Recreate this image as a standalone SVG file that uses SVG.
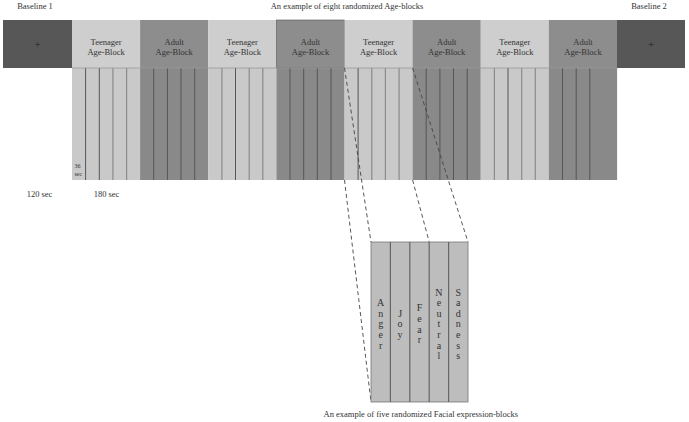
<svg xmlns="http://www.w3.org/2000/svg" width="689" height="422" viewBox="0 0 689 422">
<style>
text{font-family:"Liberation Serif","Times New Roman",serif;fill:#333}
.t{font-size:8.5px;text-anchor:middle}
.teen{fill:#cecece}
.adult{fill:#8d8d8d}
.base{fill:#575757}
.steen{fill:#c9c9c9}
.sadult{fill:#898989}
.dk{stroke:#555;stroke-width:1}
.md{stroke:#8a8a8a;stroke-width:1.2}
.dash{stroke:#444;stroke-width:0.9;stroke-dasharray:4 3;fill:none}
.ex{fill:#bdbdbd;stroke:#777;stroke-width:0.8}
.exl{stroke:#666;stroke-width:1.2}
.v{font-size:10px;text-anchor:middle}
</style>
<text class="t" x="35" y="9">Baseline 1</text>
<text class="t" x="347" y="9">An example of eight randomized Age-blocks</text>
<text class="t" x="649" y="9">Baseline 2</text>

<g id="baseline1">
<rect class="base" x="3" y="20" width="69" height="48"/>
<text x="37.5" y="47.5" style="font-size:11px;text-anchor:middle;fill:#222">+</text>
</g>

<g id="block1">
<rect class="teen" x="72" y="20" width="68.2" height="48"/>
<text class="t" x="106.1" y="45">Teenager</text><text class="t" x="106.1" y="55">Age-Block</text>
<rect class="steen" x="72" y="68" width="68.2" height="112"/>
<line class="dk" x1="85.6" y1="68" x2="85.6" y2="180"/><line class="dk" x1="99.3" y1="68" x2="99.3" y2="180"/><line class="md" x1="112.9" y1="68" x2="112.9" y2="180"/><line class="md" x1="126.6" y1="68" x2="126.6" y2="180"/>
<text x="74.5" y="168" style="font-size:6px">36</text><text x="74.5" y="176" style="font-size:6px">sec</text>
</g>
<g id="block2">
<rect class="adult" x="140.1" y="20" width="68.2" height="48"/>
<text class="t" x="174.2" y="45">Adult</text><text class="t" x="174.2" y="55">Age-Block</text>
<rect class="sadult" x="140.1" y="68" width="68.2" height="112"/>
<line class="dk" x1="153.7" y1="68" x2="153.7" y2="180"/><line class="dk" x1="167.4" y1="68" x2="167.4" y2="180"/><line class="dk" x1="181" y1="68" x2="181" y2="180"/><line class="dk" x1="194.7" y1="68" x2="194.7" y2="180"/>
</g>
<g id="block3">
<rect class="teen" x="208.25" y="20" width="68.2" height="48"/>
<text class="t" x="242.3" y="45">Teenager</text><text class="t" x="242.3" y="55">Age-Block</text>
<rect class="steen" x="208.25" y="68" width="68.2" height="112"/>
<line class="md" x1="221.9" y1="68" x2="221.9" y2="180"/><line class="dk" x1="235.5" y1="68" x2="235.5" y2="180"/><line class="md" x1="249.2" y1="68" x2="249.2" y2="180"/><line class="md" x1="262.8" y1="68" x2="262.8" y2="180"/>
</g>
<g id="block4">
<rect class="adult" x="276.4" y="20" width="68.2" height="48" stroke="#555" stroke-width="0.6"/>
<text class="t" x="310.5" y="45">Adult</text><text class="t" x="310.5" y="55">Age-Block</text>
<rect class="sadult" x="276.4" y="68" width="68.2" height="112"/>
<line class="dk" x1="290" y1="68" x2="290" y2="180"/><line class="dk" x1="303.7" y1="68" x2="303.7" y2="180"/><line class="dk" x1="317.3" y1="68" x2="317.3" y2="180"/><line class="dk" x1="331" y1="68" x2="331" y2="180"/>
</g>
<g id="block5">
<rect class="teen" x="344.5" y="20" width="68.2" height="48"/>
<text class="t" x="378.6" y="45">Teenager</text><text class="t" x="378.6" y="55">Age-Block</text>
<rect class="steen" x="344.5" y="68" width="68.2" height="112"/>
<line class="dk" x1="358.1" y1="68" x2="358.1" y2="180"/><line class="md" x1="371.8" y1="68" x2="371.8" y2="180"/><line class="md" x1="385.4" y1="68" x2="385.4" y2="180"/><line class="md" x1="399.1" y1="68" x2="399.1" y2="180"/>
</g>
<g id="block6">
<rect class="adult" x="412.6" y="20" width="68.2" height="48"/>
<text class="t" x="446.7" y="45">Adult</text><text class="t" x="446.7" y="55">Age-Block</text>
<rect class="sadult" x="412.6" y="68" width="68.2" height="112"/>
<line class="dk" x1="426.2" y1="68" x2="426.2" y2="180"/><line class="dk" x1="439.9" y1="68" x2="439.9" y2="180"/><line class="dk" x1="453.5" y1="68" x2="453.5" y2="180"/><line class="dk" x1="467.2" y1="68" x2="467.2" y2="180"/>
</g>
<g id="block7">
<rect class="teen" x="480.75" y="20" width="68.2" height="48"/>
<text class="t" x="514.8" y="45">Teenager</text><text class="t" x="514.8" y="55">Age-Block</text>
<rect class="steen" x="480.75" y="68" width="68.2" height="112"/>
<line class="md" x1="494.4" y1="68" x2="494.4" y2="180"/><line class="dk" x1="508" y1="68" x2="508" y2="180"/><line class="md" x1="521.7" y1="68" x2="521.7" y2="180"/><line class="md" x1="535.3" y1="68" x2="535.3" y2="180"/>
</g>
<g id="block8">
<rect class="adult" x="548.9" y="20" width="68.2" height="48"/>
<text class="t" x="583" y="45">Adult</text><text class="t" x="583" y="55">Age-Block</text>
<rect class="sadult" x="548.9" y="68" width="68.2" height="112"/>
<line class="dk" x1="562.5" y1="68" x2="562.5" y2="180"/><line class="dk" x1="576.2" y1="68" x2="576.2" y2="180"/><line class="dk" x1="589.8" y1="68" x2="589.8" y2="180"/><line class="md" x1="603.5" y1="68" x2="603.5" y2="180"/>
</g>

<g id="baseline2">
<rect class="base" x="617" y="20" width="68" height="48"/>
<text x="651" y="47.5" style="font-size:11px;text-anchor:middle;fill:#222">+</text>
</g>
<line x1="72" y1="68" x2="617" y2="68" stroke="#9a9a9a" stroke-width="0.8"/>

<text class="t" x="39.5" y="197">120 sec</text>
<text class="t" x="106.5" y="197">180 sec</text>

<g id="connectors">
<line class="dash" x1="344.5" y1="68" x2="371" y2="242"/>
<line class="dash" x1="344.5" y1="180" x2="371" y2="402"/>
<line class="dash" x1="412.6" y1="68" x2="468" y2="242"/>
<line class="dash" x1="412.6" y1="180" x2="429.2" y2="242"/>
</g>

<g id="expressions">
<rect class="ex" x="371" y="242" width="97" height="160"/>
<line class="exl" x1="390.4" y1="242" x2="390.4" y2="402"/>
<line class="exl" x1="409.8" y1="242" x2="409.8" y2="402"/>
<line class="exl" x1="429.2" y1="242" x2="429.2" y2="402"/>
<line class="exl" x1="448.6" y1="242" x2="448.6" y2="402"/>
<text class="v"><tspan x="380.7" y="306.1">A</tspan><tspan x="380.7" dy="10.6">n</tspan><tspan x="380.7" dy="10.6">g</tspan><tspan x="380.7" dy="10.6">e</tspan><tspan x="380.7" dy="10.6">r</tspan></text>
<text class="v"><tspan x="400.1" y="316.7">J</tspan><tspan x="400.1" dy="10.6">o</tspan><tspan x="400.1" dy="10.6">y</tspan></text>
<text class="v"><tspan x="419.5" y="311.4">F</tspan><tspan x="419.5" dy="10.6">e</tspan><tspan x="419.5" dy="10.6">a</tspan><tspan x="419.5" dy="10.6">r</tspan></text>
<text class="v"><tspan x="438.9" y="295.5">N</tspan><tspan x="438.9" dy="10.6">e</tspan><tspan x="438.9" dy="10.6">u</tspan><tspan x="438.9" dy="10.6">t</tspan><tspan x="438.9" dy="10.6">r</tspan><tspan x="438.9" dy="10.6">a</tspan><tspan x="438.9" dy="10.6">l</tspan></text>
<text class="v"><tspan x="458.3" y="295.5">S</tspan><tspan x="458.3" dy="10.6">a</tspan><tspan x="458.3" dy="10.6">d</tspan><tspan x="458.3" dy="10.6">n</tspan><tspan x="458.3" dy="10.6">e</tspan><tspan x="458.3" dy="10.6">s</tspan><tspan x="458.3" dy="10.6">s</tspan></text>
</g>
<text class="t" x="420.8" y="417">An example of five randomized Facial expression-blocks</text>
</svg>
